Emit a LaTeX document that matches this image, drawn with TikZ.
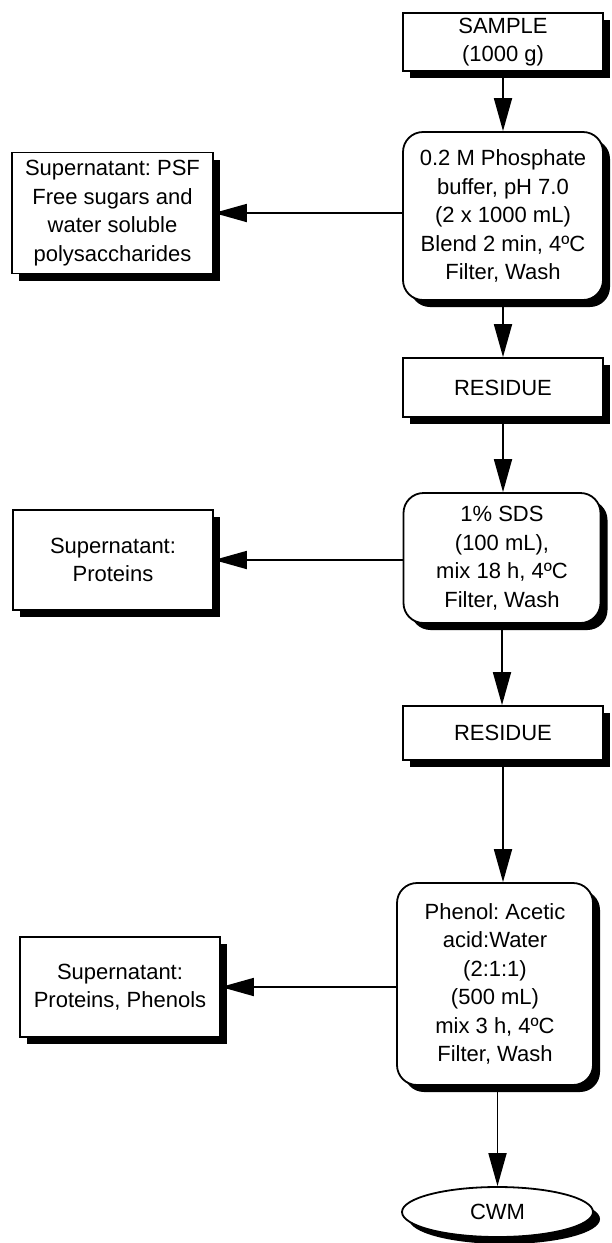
\documentclass[tikz,border=0pt]{standalone}
\usepackage{fontspec}
\setmainfont{Liberation Sans}
\usetikzlibrary{arrows.meta,shapes.geometric,shadows}
\begin{document}
\begin{tikzpicture}[x=1pt,y=1pt,
  box/.style={draw, line width=1.8pt, fill=white, align=center,
    font=\fontsize{22}{28.5}\selectfont\frenchspacing, inner sep=0pt,
    minimum width=200pt,
    drop shadow={shadow xshift=7pt, shadow yshift=-7pt, fill=black, opacity=1}},
  rbox/.style={box, rounded corners=20pt},
  arr/.style={line width=1.8pt, -{Triangle[length=33pt,width=18pt]}}]
\useasboundingbox (0,0) rectangle (612,-1243);
\node[box, minimum height=58pt] (sample) at (503,-42) {SAMPLE\\(1000 g)};
\node[rbox, minimum height=168pt] (buffer) at (503,-216)
  {0.2 M Phosphate\\buffer, pH 7.0\\(2 x 1000 mL)\\Blend 2 min, 4ºC\\Filter, Wash};
\node[box, minimum width=201pt, minimum height=121pt] (psf) at (112.5,-213)
  {Supernatant: PSF\\Free sugars and\\water soluble\\polysaccharides};
\node[box, minimum height=59pt] (res1) at (503,-387.5) {RESIDUE};
\node[rbox, minimum width=197pt, minimum height=130pt] (sds) at (502,-558)
  {1\% SDS\\(100 mL),\\mix 18 h, 4ºC\\Filter, Wash};
\node[box, minimum width=200pt, minimum height=100pt] (prot) at (113,-560)
  {Supernatant:\\Proteins};
\node[box, minimum height=54pt] (res2) at (503,-733) {RESIDUE};
\node[rbox, minimum width=196pt, minimum height=202pt] (phen) at (495,-984)
  {Phenol: Acetic\\acid:Water\\(2:1:1)\\(500 mL)\\mix 3 h, 4ºC\\Filter, Wash};
\node[box, minimum width=200pt, minimum height=100pt] (pp) at (120,-987)
  {Supernatant:\\Proteins, Phenols};
\node[box, ellipse, minimum width=191pt, minimum height=50pt] (cwm) at (497.5,-1212) {CWM};
\draw[arr] (sample) -- (buffer);
\draw[arr] (buffer) -- (res1);
\draw[arr] (res1) -- (res1 |- sds.north);
\draw[arr] (sds) -- (sds |- res2.north);
\draw[arr] (res2) -- (res2 |- phen.north);
\draw[arr] (cwm |- phen.south) -- (cwm);
\draw[arr] (buffer.west |- psf.east) -- (psf.east);
\draw[arr] (sds.west |- prot.east) -- (prot.east);
\draw[arr] (phen.west |- pp.east) -- (pp.east);
\end{tikzpicture}
\end{document}
